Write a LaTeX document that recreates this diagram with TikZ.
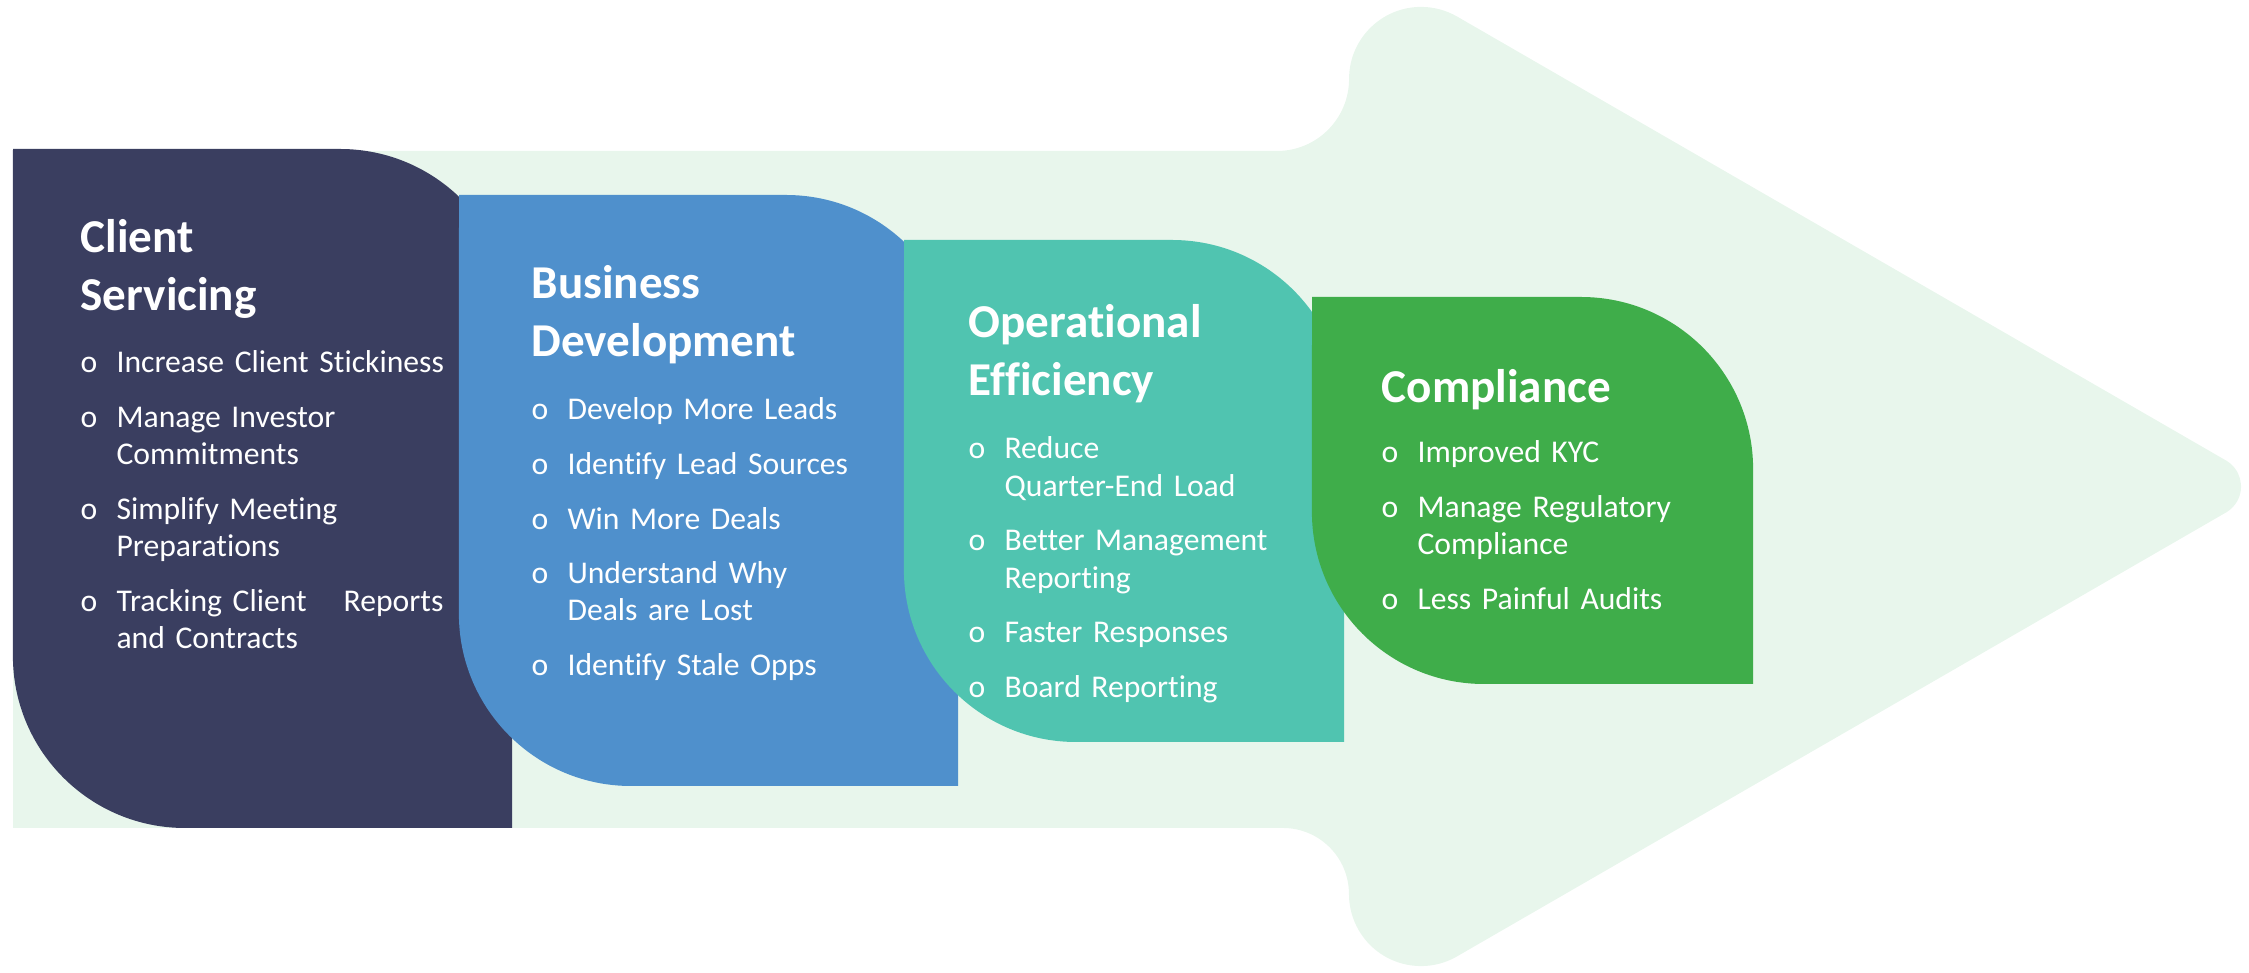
\documentclass[tikz,border=0pt]{standalone}
\usepackage{fontspec}
\setmainfont{Carlito}[Ligatures=NoCommon]
\usetikzlibrary{calc}
\hyphenpenalty=10000

\definecolor{arrowbg}{RGB}{232,246,236}
\definecolor{navy}{RGB}{58,62,96}
\definecolor{skyblue}{RGB}{79,144,204}
\definecolor{teal}{RGB}{80,196,176}
\definecolor{leaf}{RGB}{63,173,74}

\tikzset{
  every node/.style={
    inner sep=0pt,
    text=white,
    anchor=base west,
    align=left
  },
  title/.style={
    text width=4cm,
    font=\fontsize{13.4pt}{16.3pt}\selectfont\bfseries
  },
  points/.style={
    text width=#1,
    font=\fontsize{9pt}{10.6pt}\selectfont
  }
}

% one bullet point with a hanging indent
\newcommand{\itm}[1]{\noindent\hangindent=10.2pt\hangafter=1%
  \makebox[10.2pt][l]{o}#1\par}

% block with rounded top-right and bottom-left corners
\newcommand{\panel}[5]{%
  \fill[#1] (#2,#5) -- ({#4-172},#5)
    arc[start angle=90,end angle=0,radius=1.72cm] -- (#4,#3)
    -- ({#2+172},#3)
    arc[start angle=270,end angle=180,radius=1.72cm] -- cycle;}

\begin{document}
\begin{tikzpicture}[x=0.01cm,y=0.01cm]
    \useasboundingbox (0,0) rectangle (2249,973);

    % big arrow in the background
    \fill[arrowbg] (13,822) -- (1277,822)
        arc[start angle=270,end angle=360,radius=0.72cm]
        arc[start angle=180,end angle=60,radius=0.72cm]
        -- (2226,512.5)
        arc[start angle=60,end angle=-60,radius=0.30cm]
        -- (1457,16.6)
        arc[start angle=-60,end angle=-180,radius=0.72cm]
        arc[start angle=0,end angle=90,radius=0.66cm]
        -- (13,145) -- cycle;

    % the four blocks
    \panel{navy}{13}{145}{512}{824}
    \panel{skyblue}{459}{187}{958}{778}
    \panel{teal}{904}{231}{1344}{733}
    \panel{leaf}{1312}{289}{1753}{676}

    % Client Servicing
    \node[title] (cs) at (80,720) {Client\\Servicing};
    \node[points=3.8cm] (csl) at (80,600) {\setlength{\parskip}{4.9pt}%
        \itm{Increase Client Stickiness}
        \itm{Manage Investor\newline Commitments}
        \itm{Simplify Meeting\newline Preparations}
        \itm{Tracking Client\hspace{10.5pt}Reports\newline and Contracts}};

    % Business Development
    \node[title] (bd) at (531,674) {Business\\Development};
    \node[points=3.8cm] (bdl) at (531,553) {\setlength{\parskip}{4.9pt}%
        \itm{Develop More Leads}
        \itm{Identify Lead Sources}
        \itm{Win More Deals}
        \itm{Understand Why\newline Deals are Lost}
        \itm{Identify Stale Opps}};

    % Operational Efficiency
    \node[title] (oe) at (968,635) {Operational\\Efficiency};
    \node[points=3.8cm] (oel) at (968,514) {\setlength{\parskip}{4.9pt}%
        \itm{Reduce\newline Quarter-End Load}
        \itm{Better Management\newline Reporting}
        \itm{Faster Responses}
        \itm{Board Reporting}};

    % Compliance
    \node[title] (co) at (1381,570) {Compliance};
    \node[points=3.8cm] (col) at (1381,510) {\setlength{\parskip}{4.9pt}%
        \itm{Improved KYC}
        \itm{Manage Regulatory\newline Compliance}
        \itm{Less Painful Audits}};

\end{tikzpicture}
\end{document}
